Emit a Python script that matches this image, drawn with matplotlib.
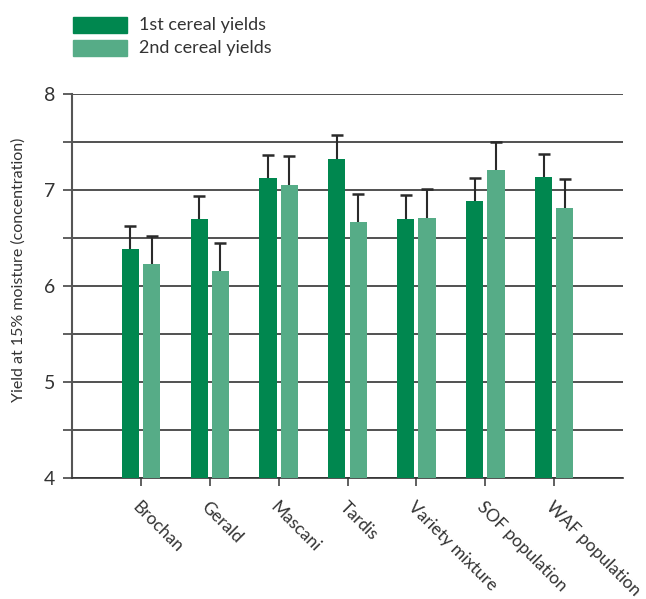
import matplotlib
matplotlib.use("Agg")
import matplotlib.pyplot as plt
import numpy as np
from matplotlib.patches import Rectangle

categories = ["Brochan", "Gerald", "Mascani", "Tardis", "Variety mixture",
              "SOF population", "WAF population"]
first_yield = [6.39, 6.70, 7.13, 7.32, 6.70, 6.89, 7.14]
first_err = [0.24, 0.24, 0.24, 0.25, 0.25, 0.24, 0.24]
second_yield = [6.23, 6.16, 7.05, 6.67, 6.71, 7.21, 6.81]
second_err = [0.29, 0.29, 0.30, 0.29, 0.30, 0.29, 0.30]
series_names = ["1st cereal yields", "2nd cereal yields"]
yticks = [4, 5, 6, 7, 8]

c1 = "#00874f"
c2 = "#56ac87"
font = "Lato"
plt.rcParams['font.family'] = [font, 'DejaVu Sans']

fig = plt.figure(figsize=(6.46, 5.99), dpi=100)
ax = fig.add_axes([0.1115, 0.202, 0.853, 0.641])

x = np.arange(len(categories))
w = 0.25
off = 0.155
ax.bar(x - off, np.array(first_yield) - 4, w, bottom=4, color=c1, zorder=3)
ax.bar(x + off, np.array(second_yield) - 4, w, bottom=4, color=c2, zorder=3)
ecol = "#2a2a2a"
for xs, ys, es in [(x - off, first_yield, first_err), (x + off, second_yield, second_err)]:
    tops = np.array(ys) + np.array(es)
    ax.vlines(xs, ys, tops, color=ecol, lw=1.5, zorder=4)
    ax.plot(xs, tops, ls="none", marker="_", ms=9, mew=1.8, color=ecol, zorder=4)

ax.set_xlim(-1, 7)
ax.set_ylim(4, 8)
ax.set_yticks(np.arange(4, 8.01, 0.5))
ax.set_yticklabels([str(int(v)) if v in yticks else "" for v in np.arange(4, 8.01, 0.5)],
                   fontsize=14, color="#333333")
ax.yaxis.grid(True, color="#333333", lw=1.2, zorder=1)
ax.tick_params(axis="y", length=6.5, width=1.2, color="#444444", pad=5.5)
ax.set_xticks(x)
ax.set_xticklabels(categories, rotation=-45, ha="left", va="top",
                   rotation_mode="anchor", fontsize=12.5, color="#333333")
ax.tick_params(axis="x", length=6, width=1.2, color="#444444", pad=9)
ax.spines["top"].set_visible(False)
ax.spines["right"].set_visible(False)
ax.spines["left"].set_color("#555555")
ax.spines["left"].set_linewidth(1.5)
ax.spines["bottom"].set_color("#333333")
ax.spines["bottom"].set_linewidth(1.2)
ax.set_ylabel("Yield at 15% moisture (concentration)", fontsize=11.5,
              color="#333333")
ax.yaxis.set_label_coords(-0.084, 0.542)

# legend
for i, (name, col) in enumerate(zip(series_names, [c1, c2])):
    y0 = 1 - (17 + 23 * i + 16) / 599
    fig.patches.append(Rectangle((73 / 646, y0), 54 / 646, 16 / 599,
                                 transform=fig.transFigure, color=col))
    fig.text(139 / 646, y0 + 8 / 599, name, fontsize=13, color="#333333",
             va="center", ha="left")

fig.savefig("out.png", dpi=100)
